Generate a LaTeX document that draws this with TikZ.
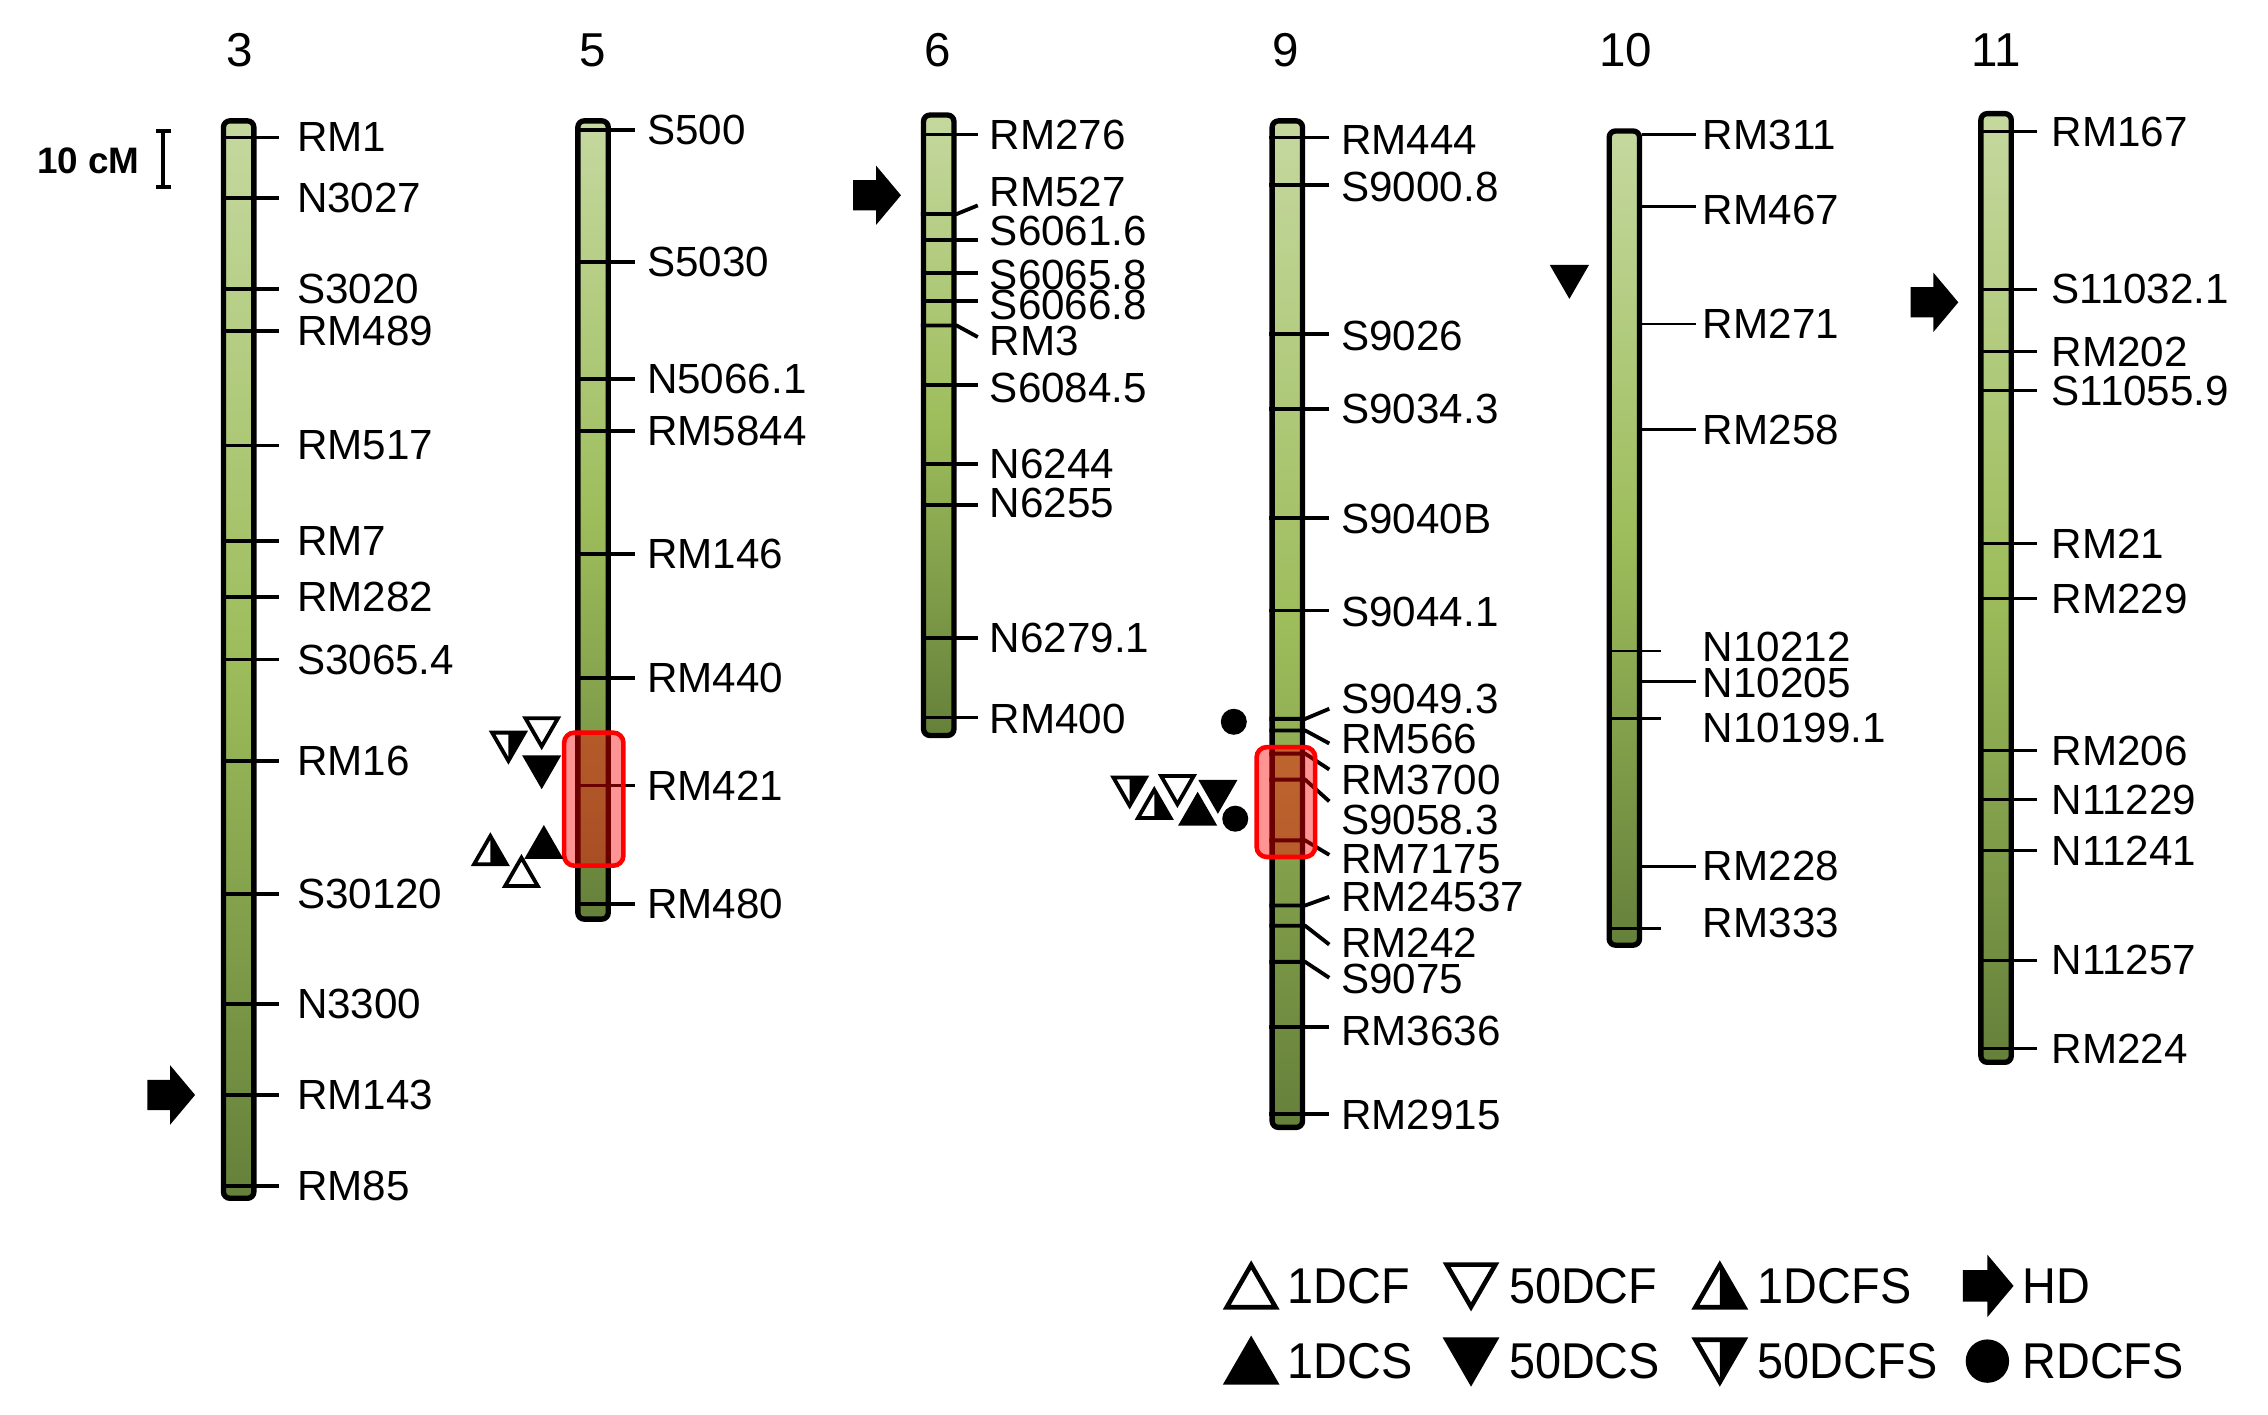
\documentclass[tikz,border=0pt]{standalone}
\usepackage{fontspec}
\setmainfont{Liberation Sans}
\usetikzlibrary{shapes.geometric,shapes.arrows,arrows.meta,calc}
\definecolor{chrtop}{HTML}{C5D89F}
\definecolor{chrmid}{HTML}{9DBD5B}
\definecolor{chrbot}{HTML}{65803A}

\begin{document}
\begin{tikzpicture}[x=0.02cm, y=-0.02cm,
    chrom/.style={draw, line width=2.1pt, rounded corners=2.5pt, minimum width=0.42cm, inner sep=0pt,
      top color=chrtop, bottom color=chrbot, middle color=chrmid},
    num/.style={font=\fontsize{18.7}{20}\selectfont},
    mk/.style={anchor=west, inner sep=0pt, font=\fontsize{16.6}{18}\selectfont},
    tk/.style={line width=1.5pt},
    tkthin/.style={line width=1.1pt},
    qtl/.style={draw=red, line width=1.8pt, fill=red, fill opacity=0.42, rounded corners=4pt, inner sep=0pt},
    sym/.style={regular polygon, regular polygon sides=3, draw, line width=1.5pt, inner sep=0pt, minimum size=0.52cm, fill=white},
    up/.style={sym},
    dn/.style={sym, shape border rotate=180},
    blk/.style={fill=black},
    halfup/.style={path picture={\fill[black] (path picture bounding box.north) -- (path picture bounding box.south east) -- (path picture bounding box.south) -- cycle;}},
    halfdn/.style={path picture={\fill[black] (path picture bounding box.north) -- (path picture bounding box.north east) -- (path picture bounding box.south) -- cycle;}},
    spot/.style={circle, fill=black, inner sep=0pt, minimum size=0.36cm},
    hd/.style={single arrow, fill=black, inner xsep=0pt, inner ysep=0.2cm, minimum height=0.66cm, minimum width=0.82cm,
      single arrow head extend=0.2cm, single arrow tip angle=100},
    big/.style={minimum size=0.78cm, line width=1.8pt},
    key/.style={anchor=west, inner sep=0pt, xscale=0.93, font=\fontsize{19.8}{21}\selectfont}
  ]
  \useasboundingbox (0,0) rectangle (1568,978);

  % scale bar
  \node[font=\fontsize{14.5}{16}\selectfont\bfseries] (scl) at (61,111) {10 cM};
  \coordinate (sbtop) at (113,89);
  \coordinate (sbbot) at (113,131);
  \draw[line width=1.6pt, {Bar[width=0.2cm]}-{Bar[width=0.2cm]}] (sbtop) -- (sbbot);

  % chromosome 3
  \node[num] (n3) at (166,35) {3};
  \node[chrom, minimum height=14.9cm] (c3) at (165,456) {};
  \foreach \m/\y [count=\i] in {RM1/95, N3027/137, S3020/200, RM489/229, RM517/308, RM7/374, RM282/413,
      S3065.4/456, RM16/526, S30120/618, N3300/694, RM143/757, RM85/820}
    {\node[mk] (m3-\i) at (205,\y) {\m};
     \draw[tk] (c3.west |- 0,\y) -- ($(m3-\i.west)+(-12,0)$);}
  \node[hd] (a3) at (114,757) {};

  % chromosome 5
  \node[num] (n5) at (410,35) {5};
  \node[chrom, minimum height=11.04cm] (c5) at (410,359.5) {};
  \foreach \m/\y [count=\i] in {S500/90, S5030/181, N5066.1/262, RM5844/298, RM146/383, RM440/469,
      RM421/543, RM480/625}
    {\node[mk] (m5-\i) at (447,\y) {\m};
     \draw[tk] (c5.west |- 0,\y) -- ($(m5-\i.west)+(-8,0)$);}
  \node[qtl, minimum width=0.82cm, minimum height=1.84cm] (q5) at (410.5,552.5) {};
  \node[dn, halfdn] (s5a) at (351.5,513) {};
  \node[dn] (s5b) at (374.5,503) {};
  \node[dn, blk] (s5c) at (374.5,530) {};
  \node[up, halfup] (s5d) at (339,591) {};
  \node[up, blk] (s5e) at (376,586) {};
  \node[up] (s5f) at (360.5,606) {};

  % chromosome 6
  \node[num] (n6) at (648,35) {6};
  \node[chrom, minimum height=8.58cm] (c6) at (649,294) {};
  \foreach \m/\y/\t/\o [count=\i] in {RM276/93/93/0, RM527/133/148/9, S6061.6/160/166/6, S6065.8/190/189/-1,
      S6066.8/211/208/-3, RM3/236/225/-3, S6084.5/268/266/-2, N6244/321/321/0, N6255/348/349/1,
      N6279.1/441/441/0, RM400/497/496/-1}
    {\node[mk] (m6-\i) at (684,\y) {\m};
     \draw[tk] (c6.west |- 0,\t) -- (c6.east |- 0,\t) -- ($(m6-\i.west)+(-8,\o)$);}
  \node[hd] (a6) at (602,135) {};

  % chromosome 9
  \node[num] (n9) at (889,35) {9};
  \node[chrom, minimum height=13.92cm] (c9) at (890,431.5) {};
  \foreach \m/\y/\t/\o [count=\i] in {RM444/97/95/-2, S9000.8/129/128/-1, S9026/232/231/-1, S9034.3/283/283/0,
      S9040B/359/358/-1, S9044.1/423/422/-1, S9049.3/483/497/7, RM566/511/505/3, RM3700/539/521/-7,
      S9058.3/567/539/-13, RM7175/594/581/-3, RM24537/620/626/0, RM242/652/640/1, S9075/677/665/-1,
      RM3636/713/710/-3, RM2915/771/770/-1}
    {\node[mk] (m9-\i) at (927,\y) {\m};
     \draw[tk] (c9.west |- 0,\t) -- (c9.east |- 0,\t) -- ($(m9-\i.west)+(-8,\o)$);}
  \node[qtl, minimum width=0.81cm, minimum height=1.52cm] (q9) at (889,554.5) {};
  \node[spot] (s9a) at (853,499) {};
  \node[dn, halfdn] (s9b) at (781,544) {};
  \node[up, halfup] (s9c) at (798,559) {};
  \node[dn] (s9d) at (814,543) {};
  \node[up, blk] (s9e) at (828,563) {};
  \node[dn, blk] (s9f) at (842,547) {};
  \node[spot] (s9g) at (854,566) {};

  % chromosome 10
  \node[num] (n10) at (1124,35) {10};
  \node[chrom, minimum height=11.26cm] (c10) at (1123,372) {};
  \foreach \m/\y [count=\i] in {RM311/93, RM467/145, RM271/224, RM258/297, N10212/447, N10205/472,
      N10199.1/503, RM228/599, RM333/638}
    \node[mk] (m10-\i) at (1177,\y) {\m};
  \foreach \t in {93, 143, 224, 297, 471, 599}
    \draw[tkthin] (c10.east |- 0,\t) -- ++(37,0);
  \foreach \t in {450, 497, 642}
    \draw[tkthin] (c10.west |- 0,\t) -- ++(38,0);
  \node[dn, blk] (s10a) at (1085,191) {};

  % chromosome 11
  \node[num] (n11) at (1380,35) {11};
  \node[chrom, minimum height=13.12cm] (c11) at (1380,406.5) {};
  \foreach \m/\y [count=\i] in {RM167/91, S11032.1/200, RM202/243, S11055.9/270, RM21/376, RM229/414,
      RM206/519, N11229/553, N11241/588, N11257/664, RM224/725}
    {\node[mk] (m11-\i) at (1418,\y) {\m};
     \draw[tkthin] (c11.west |- 0,\y) -- ($(m11-\i.west)+(-10,0)$);}
  \node[hd] (a11) at (1333,209) {};

  % legend
  \node[up, big] (k1) at (865,894) {};
  \node[key] (t1) at (890,889) {1DCF};
  \node[dn, big] (k2) at (1017,884) {};
  \node[key] (t2) at (1043,889) {50DCF};
  \node[up, big, halfup] (k3) at (1189,894) {};
  \node[key] (t3) at (1215,889) {1DCFS};
  \node[hd, minimum height=0.7cm, minimum width=0.86cm] (k4) at (1370,889) {};
  \node[key] (t4) at (1398,889) {HD};
  \node[up, big, blk] (k5) at (865,946) {};
  \node[key] (t5) at (890,941) {1DCS};
  \node[dn, big, blk] (k6) at (1017,936) {};
  \node[key] (t6) at (1043,941) {50DCS};
  \node[dn, big, halfdn] (k7) at (1189,936) {};
  \node[key] (t7) at (1215,941) {50DCFS};
  \node[spot, minimum size=0.6cm] (k8) at (1374,941) {};
  \node[key] (t8) at (1398,941) {RDCFS};
\end{tikzpicture}
\end{document}
